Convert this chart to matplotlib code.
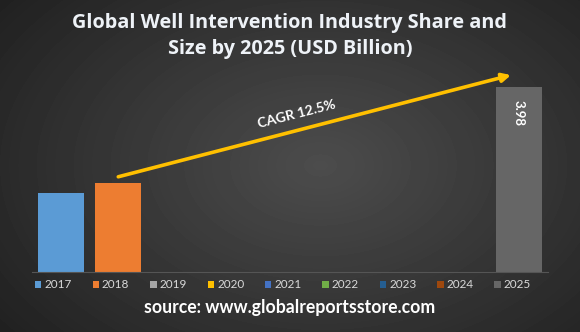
import numpy as np
import matplotlib
matplotlib.use('Agg')
import matplotlib.pyplot as plt
from matplotlib.patches import Patch

plt.rcParams['font.family'] = ['Lato', 'DejaVu Sans']

# Data
years = ['2017', '2018', '2019', '2020', '2021', '2022', '2023', '2024', '2025']
values = [1.71, 1.91, 0, 0, 0, 0, 0, 0, 3.98]
colors = ['#5B9BD5', '#ED7D31', '#A5A5A5', '#FFC000', '#4472C4',
          '#70AD47', '#255E91', '#9E480E', '#666666']
title = 'Global Well Intervention Industry Share and\nSize by 2025 (USD Billion)'
cagr_label = 'CAGR 12.5%'
source = 'source: www.globalreportsstore.com'

W, H = 580, 332
fig = plt.figure(figsize=(W / 100, H / 100), dpi=100)

# dark radial background
bg = fig.add_axes([0, 0, 1, 1])
bg.axis('off')
yy, xx = np.mgrid[0:H, 0:W]
r = np.sqrt(((xx - 320) / 330.0) ** 2 + ((yy - 165) / 220.0) ** 2)
shade = np.clip(0.30 - 0.14 * r, 0.13, 0.3)
bg.imshow(shade, cmap='gray', vmin=0, vmax=1, aspect='auto',
          extent=[0, 1, 0, 1], origin='upper', interpolation='bilinear')

ax = fig.add_axes([32.4 / W, 60 / H, 515.2 / W, 209 / H])
ax.set_facecolor('none')
x = np.arange(len(years))
ax.bar(x, values, width=0.8, color=colors, zorder=2)
ax.set_xlim(-0.5, len(years) - 0.5)
ax.set_ylim(0, 4.5)
for s in ['top', 'right', 'left']:
    ax.spines[s].set_visible(False)
ax.spines['bottom'].set_color('#555555')
ax.spines['bottom'].set_linewidth(0.8)
ax.set_xticks([])
ax.set_yticks([])

# value label inside the 2025 bar
ax.text(x[-1], values[-1] - 0.28, f'{values[-1]:.2f}', rotation=-90,
        ha='center', va='top', color='white', fontweight='bold', fontsize=9.5)

# CAGR arrow
ax.annotate('', xy=(7.86, 4.24), xytext=(1.0, 2.05),
            arrowprops=dict(arrowstyle='-|>,head_length=0.5,head_width=0.25',
                            color='#FFC000', lw=2.6, shrinkA=0, shrinkB=0),
            zorder=3)
ax.text(4.12, 3.40, cagr_label, rotation=14.4, rotation_mode='anchor',
        ha='center', va='center', color='white', fontweight='bold',
        fontsize=10)

fig.text(0.5, 1 - 13 / H, title, ha='center', va='top', fontsize=14.3,
         fontweight='bold', color='#EEF2F7', linespacing=1.42,
         family=['Open Sans', 'DejaVu Sans'])

handles = [Patch(facecolor=c) for c in colors]
fig.legend(handles, years, loc='center left',
           bbox_to_anchor=(35 / W, 47 / H, (531 - 35) / W, 0),
           mode='expand', ncol=9, frameon=False, borderpad=0,
           borderaxespad=0, handlelength=0.55, handleheight=0.55,
           handletextpad=0.25, fontsize=8.5, labelcolor='#D9D9D9')

fig.text(0.5, 25 / H, source, ha='center', va='center', fontsize=12.7,
         fontweight='bold', color='white')

fig.savefig('out.png', dpi=100)
